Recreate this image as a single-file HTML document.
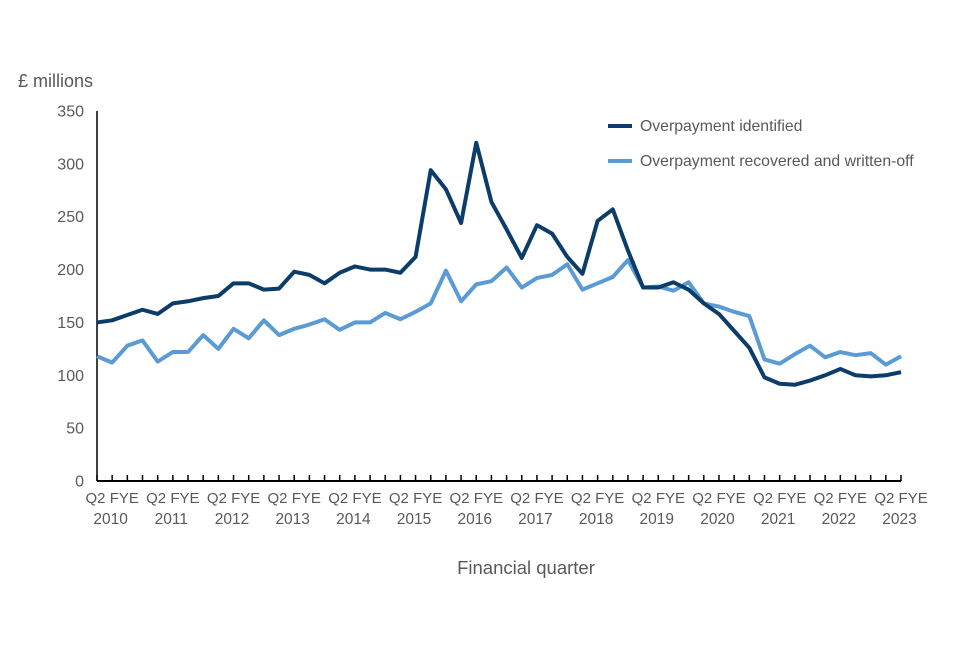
<!DOCTYPE html>
<html><head><meta charset="utf-8"><style>
body{margin:0;background:#fff;}
svg text{font-family:"Liberation Sans",Arial,sans-serif;fill:#595959;}
</style></head><body>
<svg id="c" width="960" height="640" xmlns="http://www.w3.org/2000/svg">
<text x="18" y="87" font-size="18">£ millions</text>
<text x="526" y="574" font-size="18.5" text-anchor="middle">Financial quarter</text>
<g>
<line x1="608" y1="126" x2="632" y2="126" stroke="#0c3c69" stroke-width="4"/>
<text x="640" y="131" font-size="15.8">Overpayment identified</text>
<line x1="608" y1="161" x2="632" y2="161" stroke="#5b9bd5" stroke-width="4"/>
<text x="640" y="166" font-size="15.8">Overpayment recovered and written-off</text>
</g>
</svg>
<script>
const identified=[150,152,157,162,158,168,170,173,175,187,187,181,182,198,195,187,197,203,200,200,197,212,294,276,244,320,264,238,211,242,234,212,196,246,257,218,183,183,188,181,168,158,142,126,98,92,91,95,100,106,100,99,100,103];
const recovered=[118,112,128,133,113,122,122,138,125,144,135,152,138,144,148,153,143,150,150,159,153,160,168,199,170,186,189,202,183,192,195,205,181,187,193,209,183,184,180,188,168,165,160,156,115,111,120,128,117,122,119,121,110,118];
const yTicks=[0,50,100,150,200,250,300,350];
const years=["2010","2011","2012","2013","2014","2015","2016","2017","2018","2019","2020","2021","2022","2023"];
const NS="http://www.w3.org/2000/svg";
const svg=document.getElementById('c');
const x0=97,step=15.17,y0=481,ky=370/350;
const X=i=>x0+i*step, Y=v=>y0-v*ky;
function mk(t,a){const e=document.createElementNS(NS,t);for(const k in a)e.setAttribute(k,a[k]);svg.appendChild(e);return e;}
yTicks.forEach(v=>{
  const t=mk('text',{x:84,y:Y(v)+5.5,'font-size':16,'text-anchor':'end'});
  
  
  t.textContent=v;
});
const ax=mk('line',{x1:97,y1:111,x2:97,y2:y0,stroke:'#000','stroke-width':1.5});


const n=identified.length;
const xa=mk('line',{x1:97,y1:y0,x2:X(n-1),y2:y0,stroke:'#000','stroke-width':2});


for(let i=0;i<n;i++){
  const t=mk('line',{x1:X(i),y1:y0,x2:X(i),y2:y0-6,stroke:'#000','stroke-width':1.5});
  
  
}
years.forEach((yr,k)=>{
  [["Q2",4*k-0.1],["FYE",4*k+1.8]].forEach(([s,i])=>{
    const t=mk('text',{x:X(i),y:503,'font-size':15,'text-anchor':'middle'});
    
    
    t.textContent=s;
  });
  const t=mk('text',{x:X(4*k+0.9),y:524,'font-size':15.5,'text-anchor':'middle'});
  
  
  t.textContent=yr;
});
function line(d,c,name){
  const p=mk('polyline',{points:d.map((v,i)=>X(i)+','+Y(v)).join(' '),fill:'none',stroke:c,'stroke-width':4,'stroke-linejoin':'round'});
  
  
}
line(recovered,'#5b9bd5','series-recovered');
line(identified,'#0c3c69','series-identified');
</script>
</body></html>
